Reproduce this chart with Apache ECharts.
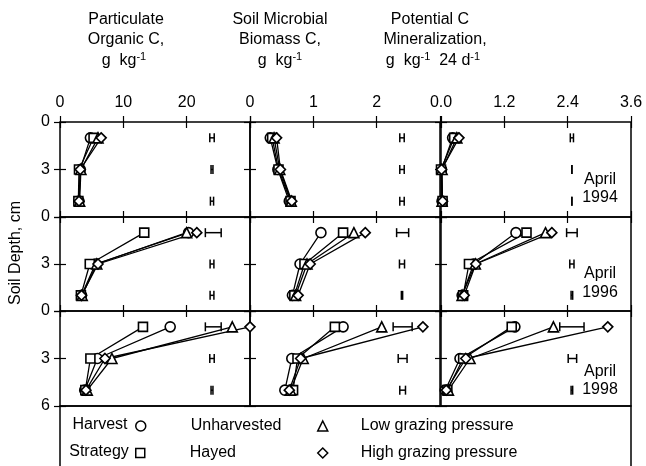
<!DOCTYPE html>
<html>
<head>
<meta charset="utf-8">
<script src="https://cdn.jsdelivr.net/npm/echarts@6/dist/echarts.min.js"></script>
<style>
  html, body { margin: 0; padding: 0; background: #fff; }
  #chart { width: 646px; height: 466px; }
</style>
</head>
<body>
<div id="chart"></div>
<script>
const depths = [1, 3, 5]
const years = ['1994', '1996', '1998']
const treatments = ['Unharvested', 'Hayed', 'Low grazing pressure', 'High grazing pressure']
const symbols = ['circle', 'rect', 'triangle', 'diamond']

// each array: one row per treatment (U, H, LG, HG), values at depths 1, 3, 5 cm
const poc1994 = [[4.8, 3.2, 3.0], [5.3, 3.0, 2.9], [6.0, 3.3, 3.1], [6.5, 3.2, 3.0]]
const poc1996 = [[20.3, 5.6, 3.4], [13.3, 4.7, 3.3], [20.0, 5.8, 3.5], [21.6, 6.0, 3.4]]
const poc1998 = [[17.4, 5.9, 3.9], [13.1, 4.8, 4.0], [27.2, 8.2, 4.3], [30.0, 7.1, 4.1]]

const smbc1994 = [[0.32, 0.44, 0.62], [0.35, 0.45, 0.64], [0.38, 0.47, 0.65], [0.42, 0.48, 0.66]]
const smbc1996 = [[1.12, 0.79, 0.67], [1.47, 0.86, 0.70], [1.64, 0.90, 0.72], [1.82, 0.95, 0.76]]
const smbc1998 = [[1.47, 0.66, 0.55], [1.34, 0.75, 0.68], [2.08, 0.84, 0.64], [2.73, 0.80, 0.62]]

const pcm1994 = [[0.22, 0.01, 0.02], [0.25, 0.00, 0.03], [0.30, 0.02, 0.02], [0.34, 0.01, 0.03]]
const pcm1996 = [[1.42, 0.62, 0.40], [1.62, 0.53, 0.42], [1.98, 0.65, 0.40], [2.10, 0.66, 0.44]]
const pcm1998 = [[1.40, 0.36, 0.08], [1.34, 0.42, 0.12], [2.13, 0.55, 0.14], [3.16, 0.47, 0.10]]

// LSD bars: [centre, half width] at depths 1, 3, 5 cm
const pocLsd1994 = [[24, 0.35], [24, 0.15], [24, 0.25]]
const pocLsd1996 = [[24.2, 1.25], [24, 0.3], [24, 0.3]]
const pocLsd1998 = [[24.2, 1.25], [24, 0.35], [24, 0.15]]
const smbcLsd1994 = [[2.4, 0.035], [2.4, 0.035], [2.4, 0.035]]
const smbcLsd1996 = [[2.41, 0.095], [2.4, 0.04], [2.4, 0.01]]
const smbcLsd1998 = [[2.41, 0.15], [2.41, 0.07], [2.41, 0.045]]
const pcmLsd1994 = [[2.48, 0.03], [2.48, 0], [2.48, 0]]
const pcmLsd1996 = [[2.48, 0.1], [2.48, 0.04], [2.48, 0.015]]
const pcmLsd1998 = [[2.48, 0.23], [2.49, 0.08], [2.48, 0.015]]

const xMax = [30, 3, 3.6]
const xStep = [10, 1, 1.2]

const panels = [
  [poc1994, smbc1994, pcm1994],
  [poc1996, smbc1996, pcm1996],
  [poc1998, smbc1998, pcm1998]
]
const lsd = [
  [pocLsd1994, smbcLsd1994, pcmLsd1994],
  [pocLsd1996, smbcLsd1996, pcmLsd1996],
  [pocLsd1998, smbcLsd1998, pcmLsd1998]
]

const font = 'Liberation Sans, Arial, Helvetica, sans-serif'
const colLeft = [60, 250, 441]
const colW = 190
const rowTop = [122, 217, 311]
const rowH = [95, 94, 95]

const grids = [], xAxes = [], yAxes = [], series = []

for (let r = 0; r < 3; r++) {
  for (let c = 0; c < 3; c++) {
    const p = r * 3 + c
    grids.push({
      left: colLeft[c], top: rowTop[r], width: colW, height: rowH[r],
      show: true, borderColor: '#000', borderWidth: 1.5, backgroundColor: 'transparent'
    })
    const tick = { show: true, inside: true, length: 6, lineStyle: { color: '#000', width: 1.2 } }
    ;['top', 'bottom'].forEach(pos => {
      xAxes.push({
        type: 'value', gridIndex: p, position: pos, min: 0, max: xMax[c], interval: xStep[c],
        axisLine: { show: false }, axisTick: tick, splitLine: { show: false },
        axisLabel: {
          show: pos === 'top' && r === 0, color: '#000', fontSize: 16, fontFamily: font, margin: 11,
          formatter: v => {
            if (c < 2 && v >= xMax[c] - 1e-9) return ''
            return c === 2 ? v.toFixed(1) : String(v)
          }
        }
      })
    })
    ;['left', 'right'].forEach(pos => {
      yAxes.push({
        type: 'value', gridIndex: p, position: pos, inverse: true, min: 0, max: 6, interval: 3,
        axisLine: { show: false }, axisTick: tick, splitLine: { show: false },
        axisLabel: {
          show: pos === 'left' && c === 0, color: '#000', fontSize: 16, fontFamily: font, margin: 10,
          formatter: v => (v === 6 && r < 2) ? '' : String(v)
        }
      })
    })

    panels[r][c].forEach((vals, t) => {
      series.push({
        type: 'line', name: treatments[t], xAxisIndex: p * 2, yAxisIndex: p * 2,
        data: vals.map((v, i) => [v, depths[i]]),
        symbol: symbols[t], symbolSize: t === 1 ? 9 : 10, clip: false,
        lineStyle: { color: '#000', width: 1.3 },
        itemStyle: { color: '#fff', borderColor: '#000', borderWidth: 1.6 },
        emphasis: { disabled: true }, z: 3
      })
    })

    series.push({
      type: 'custom', xAxisIndex: p * 2, yAxisIndex: p * 2, clip: false, z: 3,
      data: lsd[r][c].map((b, i) => [b[0], depths[i], b[1]]),
      encode: { x: 0, y: 1 },
      renderItem: (params, api) => {
        const cx = api.value(0), d = api.value(1), h = api.value(2)
        const a = api.coord([cx - h, d]), b = api.coord([cx + h, d])
        const st = { stroke: '#000', lineWidth: 1.5 }
        return {
          type: 'group',
          children: [
            { type: 'line', shape: { x1: a[0], y1: a[1], x2: b[0], y2: b[1] }, style: st },
            { type: 'line', shape: { x1: a[0], y1: a[1] - 4.5, x2: a[0], y2: a[1] + 4.5 }, style: st },
            { type: 'line', shape: { x1: b[0], y1: b[1] - 4.5, x2: b[0], y2: b[1] + 4.5 }, style: st }
          ]
        }
      }
    })
  }
}

const txt = (x, y, text, extra) => ({
  type: 'text', x, y,
  style: Object.assign({
    text, fill: '#000', font: '16px ' + font, textAlign: 'center', textVerticalAlign: 'middle',
    rich: { sup: { fontSize: 11, fontFamily: font, padding: [0, 0, 8, 0] }, n: { fontSize: 16, fontFamily: font } }
  }, extra || {})
})

const graphic = [
  txt(126, 20, 'Particulate'),
  txt(126, 40, 'Organic C,'),
  txt(124, 61, '{n|g  kg}{sup|-1}'),
  txt(280, 20, 'Soil Microbial'),
  txt(280, 40, 'Biomass C,'),
  txt(280, 61, '{n|g  kg}{sup|-1}'),
  txt(430, 20, 'Potential C'),
  txt(435, 40, 'Mineralization,'),
  txt(433, 61, '{n|g  kg}{sup|-1}{n|  24 d}{sup|-1}'),
  txt(16, 253, 'Soil Depth, cm'),
  txt(100, 425, 'Harvest'),
  txt(99, 452, 'Strategy'),
  txt(600, 180, 'April'), txt(600, 198, years[0]),
  txt(600, 274, 'April'), txt(600, 293, years[1]),
  txt(600, 372, 'April'), txt(600, 390, years[2]),
  {
    type: 'rect', shape: { x: 60, y: 406, width: 571, height: 80 },
    style: { fill: 'none', stroke: '#000', lineWidth: 1.5 }
  }
]
graphic[9].rotation = Math.PI / 2

// one legend per entry so the 2x2 key layout is exact
const legendPos = [[130, 413, 40], [130, 440, 40], [312, 413, 28], [312, 440, 28]]
const legends = treatments.map((name, i) => ({
  orient: 'horizontal', left: legendPos[i][0], top: legendPos[i][1],
  itemWidth: i === 1 ? 9 : 10, itemHeight: i === 1 ? 9 : 10, selectedMode: false,
  data: [{ name, icon: symbols[i] }],
  itemStyle: { color: '#fff', borderColor: '#000', borderWidth: 1.5 },
  textStyle: { color: '#000', fontSize: 16, fontFamily: font, lineHeight: 16, padding: [0, 0, 0, legendPos[i][2]] }
}))

const chart = echarts.init(document.getElementById('chart'))
chart.setOption({
  animation: false,
  grid: grids,
  xAxis: xAxes,
  yAxis: yAxes,
  legend: legends,
  graphic,
  series
})
</script>
</body>
</html>
